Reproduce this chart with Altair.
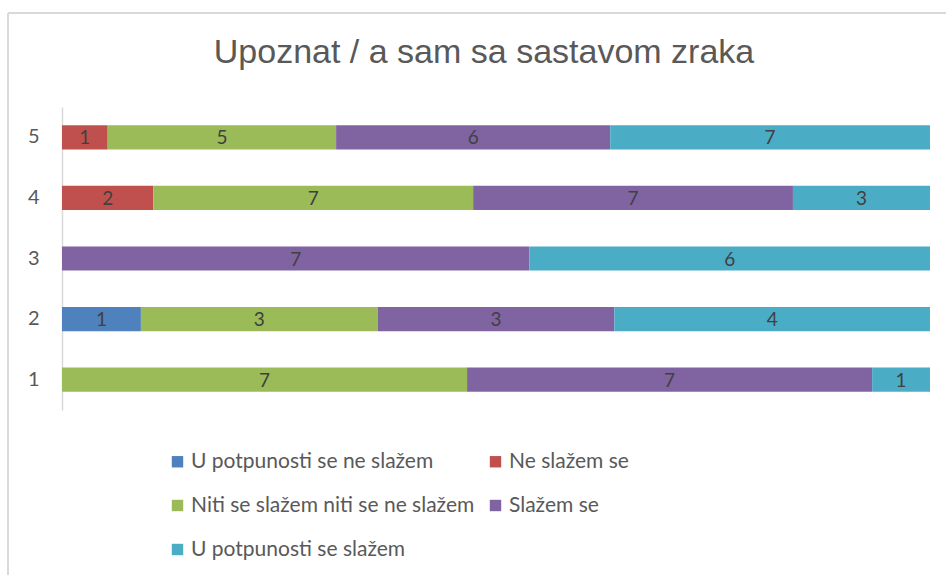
import altair as alt
import pandas as pd

title_text = "Upoznat / a sam sa sastavom zraka"
categories = ["U potpunosti se ne slažem", "Ne slažem se",
              "Niti se slažem niti se ne slažem", "Slažem se",
              "U potpunosti se slažem"]
colors = ["#4F81BD", "#C0504D", "#9BBB59", "#8064A2", "#4BACC6"]
rows = ["1", "2", "3", "4", "5"]
# values per category for rows 1..5 (0 = no segment)
vals = {
    "U potpunosti se ne slažem":        [0, 1, 0, 0, 0],
    "Ne slažem se":                     [0, 0, 0, 2, 1],
    "Niti se slažem niti se ne slažem": [7, 3, 0, 7, 5],
    "Slažem se":                        [7, 3, 7, 7, 6],
    "U potpunosti se slažem":           [1, 4, 6, 3, 7],
}

recs = []
for ci, c in enumerate(categories):
    for ri, r in enumerate(rows):
        v = vals[c][ri]
        if v > 0:
            recs.append({"row": r, "cat": c, "ci": ci, "val": v})
df = pd.DataFrame(recs)

FONT = "Lato"

base = alt.Chart(df).transform_stack(
    stack="val", groupby=["row"], as_=["s0", "s1"],
    offset="normalize", sort=[alt.SortField("ci", order="ascending")]
).transform_calculate(mid="(datum.s0 + datum.s1) / 2")

yenc = alt.Y("row:N", sort="descending",
             scale=alt.Scale(paddingInner=0.6, paddingOuter=0.3),
             axis=alt.Axis(title=None, ticks=False, domainColor="#D9D9D9",
                           domainWidth=1.5, labelFont=FONT, labelFontSize=20,
                           labelColor="#595959", labelPadding=23,
                           labelAngle=0))

bars = base.mark_bar().encode(
    x=alt.X("s0:Q", scale=alt.Scale(domain=[0, 1], nice=False), axis=None),
    x2="s1:Q",
    y=yenc,
    color=alt.Color("cat:N", scale=alt.Scale(domain=categories, range=colors),
                    legend=alt.Legend(
                        title=None, orient="none", legendX=105, legendY=344,
                        columns=2, columnPadding=10, rowPadding=22,
                        direction="horizontal", labelLimit=500,
                        symbolType="square", symbolSize=130,
                        symbolStrokeWidth=0, labelFont=FONT,
                        labelFontSize=21, labelColor="#595959",
                        labelOffset=3, padding=0, symbolOpacity=1)),
)

labels = base.mark_text(font=FONT, fontSize=19, color="#404040",
                        baseline="middle", dy=1).encode(
    x=alt.X("mid:Q", scale=alt.Scale(domain=[0, 1], nice=False), axis=None),
    y=alt.Y("row:N", sort="descending"),
    text="val:Q",
)

title_df = pd.DataFrame({"t": [title_text]})
title = alt.Chart(title_df).mark_text(
    font="Liberation Sans", fontSize=34, color="#595959",
    align="center", baseline="middle").encode(
    x=alt.value(422), y=alt.value(-54), text="t:N")

frame_top = alt.Chart(title_df).mark_rule(color="#D9D9D9", strokeWidth=2).encode(
    x=alt.value(-54), x2=alt.value(900), y=alt.value(-94))
frame_left = alt.Chart(title_df).mark_rule(color="#D9D9D9", strokeWidth=2).encode(
    x=alt.value(-54), y=alt.value(-94), y2=alt.value(480))

chart = alt.layer(frame_top, frame_left, title, bars, labels).properties(
    width=868, height=303,
    autosize=alt.AutoSizeParams(type="none"),
    padding={"left": 62, "top": 107, "right": 16, "bottom": 165},
).configure(background="white").configure_view(strokeWidth=0, stroke="transparent")

chart.save("out.html", embed_options={"renderer": "svg", "actions": False})
